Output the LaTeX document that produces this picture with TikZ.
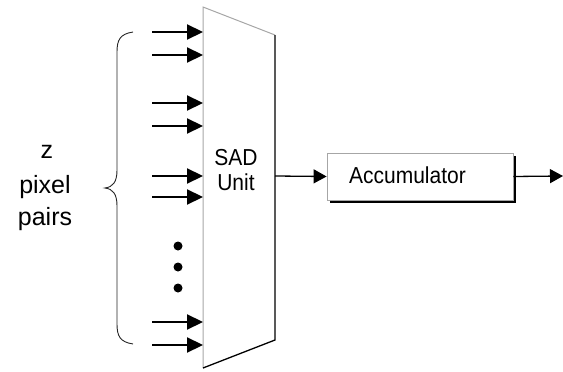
\documentclass[tikz,border=0pt]{standalone}
\usepackage{fontspec}
\setmainfont{Liberation Sans}
\usetikzlibrary{arrows.meta}
\begin{document}
\begin{tikzpicture}[x=1pt,y=-1pt,
  inarrow/.style={line width=2.2pt,-{Triangle[length=16pt,width=15pt]}},
  outarrow/.style={line width=1.3pt,-{Triangle[length=13pt,width=14pt]}},
  lbl/.style={font=\fontsize{25}{30}\selectfont,inner sep=0pt,anchor=base},
  mid/.style={font=\fontsize{21}{25}\selectfont,inner sep=0pt,anchor=base},
  dot/.style={circle,fill=black,inner sep=0pt,minimum size=9pt}]
\useasboundingbox (0,0) rectangle (563,372);
% trapezoid corners
\coordinate (tl) at (203,7);
\coordinate (tr) at (275,35);
\coordinate (br) at (275,340);
\coordinate (bl) at (203,368);
\draw[gray!70,line width=1pt] (bl) -- (tl) -- (tr);
\draw[black,line width=1.3pt] (tr) -- (br) -- (bl);
\node[mid] (sad) at (236,165) {\scalebox{1}[1.1]{SAD}};
\node[mid] (unit) at (236,190) {\scalebox{1}[1.1]{Unit}};
% input arrows
\foreach \y [count=\i] in {32,55,103,126,176,197,322,345}{
  \coordinate (s\i) at (152,\y);
  \coordinate (e\i) at (203,\y);
  \draw[inarrow] (s\i) -- (e\i);
}
% dots
\node[dot] (d1) at (178,246) {};
\node[dot] (d2) at (178,267) {};
\node[dot] (d3) at (178,288) {};
% brace
\draw[line width=0.9pt,black!85] (133,32) .. controls (120,34) and (117,40) .. (117,52)
  -- (117,170) .. controls (117,182) and (113,187) .. (105,188)
  .. controls (113,189) and (117,194) .. (117,206)
  -- (117,324) .. controls (117,336) and (120,342) .. (133,344);
\node[lbl] (zlbl) at (47,158) {z};
\node[lbl] (pix) at (45,193) {pixel};
\node[lbl] (prs) at (45,225) {pairs};
% accumulator
\fill[black] (330,156) rectangle (516,203);
\node[draw=gray!70,fill=white,line width=0.8pt,minimum width=186pt,minimum height=47pt,
  inner sep=0pt] (acc) at (420,176.5) {};
\node[mid] (acctext) at (407.5,183) {\scalebox{1}[1.1]{Accumulator}};
\coordinate (sadout) at (275,176);
\coordinate (out) at (563,176);
\draw[outarrow] (sadout) -- (acc.west);
\draw[outarrow] (acc.east) -- (out);
\end{tikzpicture}
\end{document}
